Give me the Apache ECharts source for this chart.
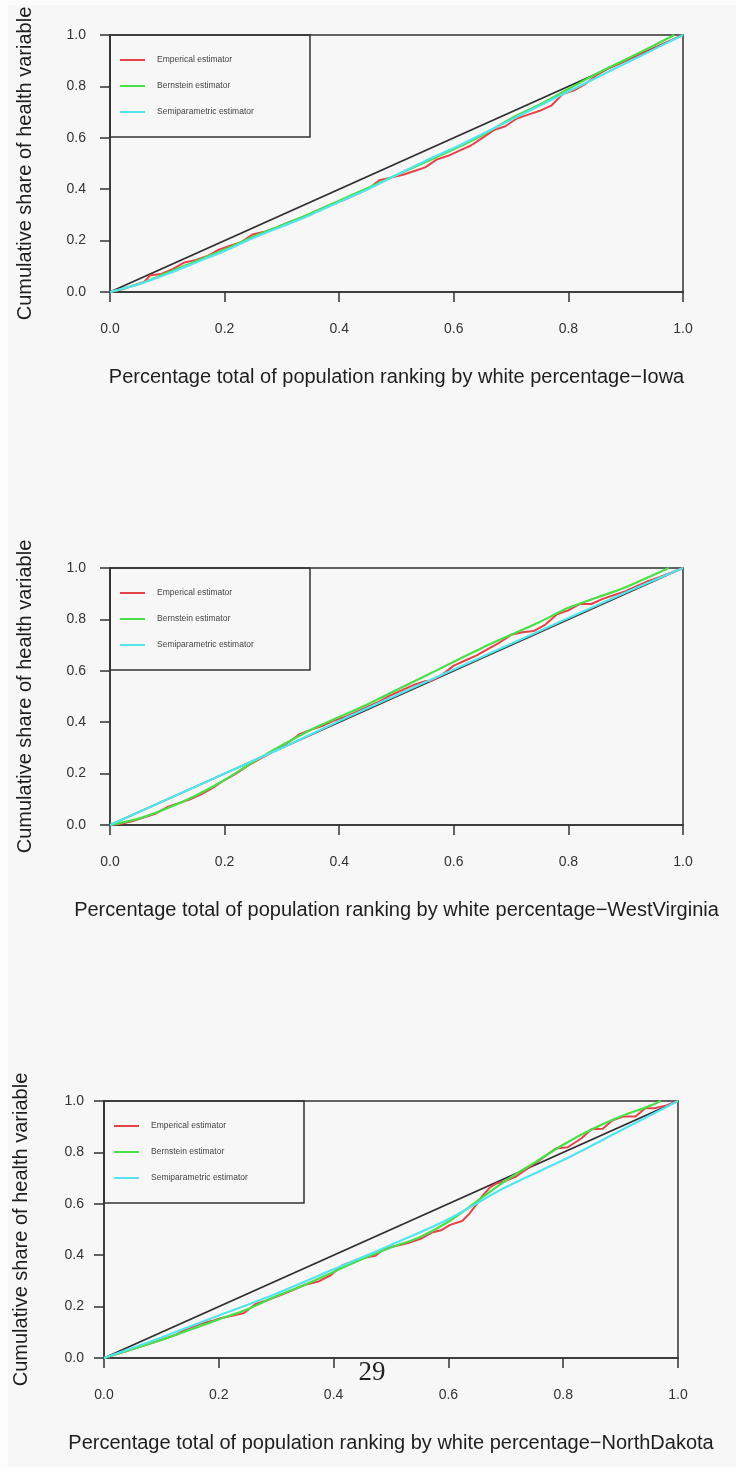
<!DOCTYPE html>
<html>
<head>
<meta charset="utf-8">
<script src="https://cdn.jsdelivr.net/npm/echarts@6/dist/echarts.min.js"></script>
<style>
  html, body { margin: 0; padding: 0; background: #fcfcfc; }
  #chart { width: 736px; height: 1469px; }
</style>
</head>
<body>
<div id="chart"></div>
<script>
// ---- Concentration curves: cumulative share vs. population ranking ----
const tickValues = [0, 0.2, 0.4, 0.6, 0.8, 1.0];
const seriesNames = ['Emperical estimator', 'Bernstein estimator', 'Semiparametric estimator'];
const stateNames = ['Iowa', 'WestVirginia', 'NorthDakota'];

// line of equality
const equalityX = [0, 1];
const equalityY = [0, 1];

// Iowa
const iowaEmpX = [0, 0.02, 0.04, 0.06, 0.07, 0.09, 0.11, 0.13, 0.15, 0.17, 0.19, 0.21, 0.23, 0.25, 0.27, 0.29, 0.31, 0.33, 0.35, 0.37, 0.39, 0.41, 0.43, 0.45, 0.47, 0.49, 0.51, 0.53, 0.55, 0.57, 0.59, 0.61, 0.63, 0.65, 0.67, 0.69, 0.71, 0.73, 0.75, 0.77, 0.79, 0.81, 0.83, 0.85, 0.87, 0.89, 0.91, 0.93, 0.95, 0.97, 1.0];
const iowaEmpY = [0, 0.01, 0.025, 0.04, 0.065, 0.07, 0.09, 0.115, 0.125, 0.14, 0.165, 0.18, 0.195, 0.225, 0.235, 0.25, 0.27, 0.285, 0.305, 0.325, 0.345, 0.36, 0.38, 0.40, 0.435, 0.445, 0.455, 0.47, 0.485, 0.515, 0.53, 0.55, 0.57, 0.60, 0.63, 0.645, 0.675, 0.69, 0.705, 0.725, 0.77, 0.785, 0.81, 0.845, 0.87, 0.89, 0.91, 0.93, 0.95, 0.97, 1.0];
const iowaBerX = [0, 0.05, 0.1, 0.15, 0.2, 0.25, 0.3, 0.35, 0.4, 0.45, 0.5, 0.55, 0.6, 0.65, 0.7, 0.75, 0.8, 0.85, 0.9, 0.95, 0.985];
const iowaBerY = [0, 0.03, 0.075, 0.12, 0.165, 0.215, 0.26, 0.305, 0.355, 0.405, 0.455, 0.505, 0.555, 0.61, 0.675, 0.73, 0.79, 0.85, 0.905, 0.96, 1.0];
const iowaSemX = [0, 0.05, 0.1, 0.15, 0.2, 0.25, 0.3, 0.35, 0.4, 0.45, 0.5, 0.55, 0.6, 0.65, 0.7, 0.75, 0.8, 0.85, 0.9, 0.95, 1.0];
const iowaSemY = [0, 0.03, 0.07, 0.115, 0.16, 0.21, 0.255, 0.30, 0.35, 0.40, 0.455, 0.51, 0.56, 0.615, 0.67, 0.725, 0.78, 0.835, 0.89, 0.945, 1.0];

// West Virginia
const wvEmpX = [0, 0.02, 0.04, 0.06, 0.08, 0.1, 0.12, 0.14, 0.16, 0.18, 0.2, 0.22, 0.24, 0.26, 0.28, 0.30, 0.32, 0.33, 0.35, 0.37, 0.39, 0.41, 0.43, 0.45, 0.47, 0.49, 0.51, 0.53, 0.55, 0.56, 0.58, 0.60, 0.62, 0.64, 0.66, 0.68, 0.70, 0.72, 0.74, 0.76, 0.78, 0.80, 0.82, 0.84, 0.86, 0.88, 0.90, 0.92, 0.94, 0.96, 1.0];
const wvEmpY = [0, 0.005, 0.015, 0.03, 0.045, 0.07, 0.085, 0.10, 0.12, 0.145, 0.175, 0.20, 0.23, 0.255, 0.28, 0.305, 0.335, 0.352, 0.37, 0.385, 0.405, 0.42, 0.44, 0.46, 0.48, 0.505, 0.525, 0.545, 0.56, 0.56, 0.585, 0.62, 0.64, 0.66, 0.685, 0.71, 0.74, 0.75, 0.755, 0.78, 0.82, 0.835, 0.86, 0.86, 0.88, 0.895, 0.91, 0.93, 0.95, 0.965, 1.0];
const wvBerX = [0, 0.05, 0.1, 0.15, 0.2, 0.25, 0.3, 0.35, 0.4, 0.45, 0.5, 0.55, 0.6, 0.65, 0.7, 0.75, 0.8, 0.85, 0.9, 0.95, 0.975];
const wvBerY = [0, 0.025, 0.065, 0.115, 0.175, 0.245, 0.31, 0.37, 0.42, 0.47, 0.525, 0.58, 0.635, 0.69, 0.74, 0.79, 0.845, 0.885, 0.925, 0.975, 1.0];
const wvSemX = [0, 0.1, 0.2, 0.3, 0.4, 0.5, 0.6, 0.7, 0.8, 0.9, 1.0];
const wvSemY = [0, 0.1, 0.2, 0.3, 0.405, 0.505, 0.605, 0.705, 0.805, 0.905, 1.0];

// North Dakota
const ndEmpX = [0, 0.03, 0.064, 0.085, 0.105, 0.125, 0.146, 0.17, 0.19, 0.203, 0.225, 0.244, 0.264, 0.285, 0.309, 0.33, 0.35, 0.374, 0.395, 0.415, 0.44, 0.458, 0.473, 0.489, 0.51, 0.53, 0.554, 0.571, 0.587, 0.603, 0.624, 0.636, 0.648, 0.66, 0.673, 0.685, 0.70, 0.718, 0.738, 0.759, 0.787, 0.808, 0.832, 0.849, 0.869, 0.886, 0.906, 0.926, 0.943, 0.959, 0.98, 1.0];
const ndEmpY = [0, 0.02, 0.045, 0.06, 0.075, 0.09, 0.115, 0.135, 0.145, 0.155, 0.165, 0.175, 0.21, 0.225, 0.246, 0.265, 0.285, 0.298, 0.322, 0.36, 0.382, 0.392, 0.398, 0.427, 0.437, 0.447, 0.466, 0.488, 0.497, 0.518, 0.533, 0.56, 0.595, 0.633, 0.665, 0.68, 0.689, 0.706, 0.738, 0.77, 0.815, 0.82, 0.855, 0.89, 0.892, 0.925, 0.94, 0.94, 0.972, 0.972, 0.983, 1.0];
const ndBerX = [0, 0.05, 0.1, 0.15, 0.2, 0.25, 0.3, 0.35, 0.4, 0.45, 0.5, 0.55, 0.6, 0.65, 0.7, 0.75, 0.8, 0.85, 0.9, 0.95, 0.97];
const ndBerY = [0, 0.035, 0.07, 0.11, 0.15, 0.19, 0.24, 0.285, 0.335, 0.385, 0.43, 0.47, 0.53, 0.61, 0.69, 0.76, 0.83, 0.89, 0.94, 0.98, 1.0];
const ndSemX = [0, 0.1, 0.2, 0.3, 0.4, 0.5, 0.6, 0.7, 0.8, 0.9, 1.0];
const ndSemY = [0, 0.08, 0.165, 0.25, 0.345, 0.44, 0.54, 0.665, 0.77, 0.885, 1.0];

const panels = [
  { emp: [iowaEmpX, iowaEmpY], ber: [iowaBerX, iowaBerY], sem: [iowaSemX, iowaSemY] },
  { emp: [wvEmpX, wvEmpY], ber: [wvBerX, wvBerY], sem: [wvSemX, wvSemY] },
  { emp: [ndEmpX, ndEmpY], ber: [ndBerX, ndBerY], sem: [ndSemX, ndSemY] }
];

// ---- layout & style ----
const gridBoxes = [
  { left: 110, top: 35, width: 573, height: 257, yNameGap: 75, yLabelMargin: 24 },
  { left: 110, top: 568, width: 573, height: 257, yNameGap: 75, yLabelMargin: 24 },
  { left: 104, top: 1101, width: 574, height: 257, yNameGap: 73, yLabelMargin: 20 }
];
const colors = { equality: '#2e2e2e', emp: '#e6424a', ber: '#48df48', sem: '#55e4ee' };
const axisColor = '#333333';
const sansFont = "'Liberation Sans', Arial, sans-serif";
const legendFont = "'Liberation Sans', Arial, sans-serif";
const legendFontSize = 8.5;
const titleFontSize = 20;

const pairs = (xs, ys) => xs.map((x, i) => [x, ys[i]]);

// legend box is 200px wide: fit right padding to the widest label
const measureCtx = document.createElement('canvas').getContext('2d');
measureCtx.font = legendFontSize + 'px ' + legendFont;
const widestLabel = Math.max(...seriesNames.map(n => measureCtx.measureText(n).width));
const legendPadRight = Math.max(4, 200 - 10 - 25 - 5 - 7 - widestLabel);

const grid = [], xAxis = [], yAxis = [], series = [], legend = [];

gridBoxes.forEach((g, i) => {
  grid.push({
    left: g.left, top: g.top, width: g.width, height: g.height,
    show: true, borderColor: axisColor, borderWidth: 1.5, backgroundColor: 'transparent'
  });
  xAxis.push({
    type: 'value', gridIndex: i, min: 0, max: 1, interval: 0.2,
    name: 'Percentage total of population ranking by white percentage\u2212' + stateNames[i],
    nameLocation: 'middle', nameGap: 75,
    nameTextStyle: { fontFamily: sansFont, fontSize: titleFontSize, color: '#1e1e1e' },
    axisLine: { show: true, lineStyle: { color: axisColor, width: 1.5 } },
    axisTick: { show: true, length: 10, lineStyle: { color: axisColor, width: 1.5 } },
    axisLabel: { margin: 30, fontFamily: sansFont, fontSize: 14, color: '#333', formatter: v => v.toFixed(1) },
    splitLine: { show: false }
  });
  yAxis.push({
    type: 'value', gridIndex: i, min: 0, max: 1, interval: 0.2,
    name: 'Cumulative share of health variable',
    nameLocation: 'middle', nameGap: g.yNameGap, nameRotate: 90,
    nameTextStyle: { fontFamily: sansFont, fontSize: titleFontSize, color: '#1e1e1e' },
    axisLine: { show: true, lineStyle: { color: axisColor, width: 1.5 } },
    axisTick: { show: true, length: 10, lineStyle: { color: axisColor, width: 1.5 } },
    axisLabel: { margin: g.yLabelMargin, fontFamily: sansFont, fontSize: 14, color: '#333', formatter: v => v.toFixed(1) },
    splitLine: { show: false }
  });

  const p = panels[i];
  const line = (name, xy, color, smooth, width) => ({
    type: 'line', name, xAxisIndex: i, yAxisIndex: i,
    data: pairs(xy[0], xy[1]), symbol: 'none', smooth,
    lineStyle: { color, width }, itemStyle: { color },
    silent: true, animation: false
  });
  series.push(line('equality', [equalityX, equalityY], colors.equality, false, 1.8));
  series.push(line(seriesNames[0], p.emp, colors.emp, false, 2));
  series.push(line(seriesNames[1], p.ber, colors.ber, 0.3, 2.2));
  series.push(line(seriesNames[2], p.sem, colors.sem, 0.3, 2.2));

  legend.push({
    data: seriesNames, orient: 'vertical',
    left: g.left, top: g.top,
    padding: [20, legendPadRight, 20, 10],
    itemGap: 16, itemWidth: 25, itemHeight: 2, icon: 'rect',
    borderColor: axisColor, borderWidth: 1.5, borderRadius: 0,
    backgroundColor: 'transparent',
    selectedMode: false,
    textStyle: { fontFamily: legendFont, fontSize: legendFontSize, lineHeight: 10, color: '#444', padding: [0, 0, 0, 7] }
  });
});

const chart = echarts.init(document.getElementById('chart'), null, { renderer: 'canvas' });
chart.setOption({
  backgroundColor: '#fcfcfc',
  animation: false,
  grid, xAxis, yAxis, series, legend,
  graphic: [
    { type: 'rect', z: -10, silent: true, shape: { x: 8, y: 5, width: 728, height: 1462 }, style: { fill: '#f7f7f7' } },
    { type: 'text', z: 10, silent: true, x: 372, y: 1373,
      style: { text: '29', font: "27px 'Liberation Serif', 'DejaVu Serif', serif", fill: '#222', textAlign: 'center', textVerticalAlign: 'middle' } }
  ]
});
</script>
</body>
</html>
